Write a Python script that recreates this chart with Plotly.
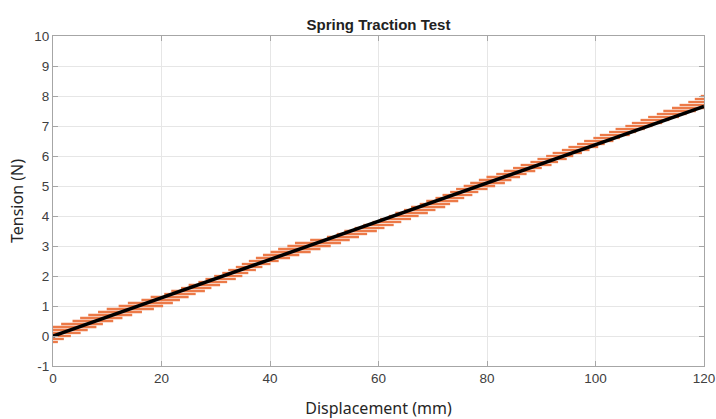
import plotly.graph_objects as go

# Quantised tension readings (N): each level is held over a displacement span (mm)
tension_levels = [-0.2, -0.1, 0.0, 0.1, 0.2, 0.3, 0.4, 0.5, 0.6, 0.7,
                  0.8, 0.9, 1.0, 1.1, 1.2, 1.3, 1.4, 1.5, 1.6, 1.7,
                  1.8, 1.9, 2.0, 2.1, 2.2, 2.3, 2.4, 2.5, 2.6, 2.7,
                  2.8, 2.9, 3.0, 3.1, 3.2, 3.3, 3.4, 3.5, 3.6, 3.7,
                  3.8, 3.9, 4.0, 4.1, 4.2, 4.3, 4.4, 4.5, 4.6, 4.7,
                  4.8, 4.9, 5.0, 5.1, 5.2, 5.3, 5.4, 5.5, 5.6, 5.7,
                  5.8, 5.9, 6.0, 6.1, 6.2, 6.3, 6.4, 6.5, 6.6, 6.7,
                  6.8, 6.9, 7.0, 7.1, 7.2, 7.3, 7.4, 7.5, 7.6, 7.7,
                  7.8, 7.9, 8.0]
span_start = [0, 0, 0, 0, 0, 0, 1.5, 3.6, 5.0, 6.5,
              8.3, 9.9, 12.1, 13.8, 16.3, 18.0, 20.5, 21.8, 23.6, 25.0,
              26.8, 28.1, 29.7, 31.2, 32.3, 33.7, 34.8, 36.1, 37.4, 38.7,
              40.1, 41.5, 43.2, 44.6, 47.4, 50.5, 52.3, 53.7, 55.6, 57.2,
              58.9, 60.3, 61.9, 63.1, 64.7, 66.0, 67.6, 68.8, 70.5, 71.8,
              73.2, 74.3, 75.7, 76.9, 78.5, 79.9, 81.7, 83.1, 84.8, 86.2,
              88.0, 89.3, 90.9, 92.1, 93.8, 95.0, 96.6, 97.9, 99.6, 100.8,
              102.5, 103.7, 105.5, 106.7, 108.3, 109.7, 111.3, 112.5, 114.1, 115.5,
              117.1, 118.3, 119.4]
span_end = [0.9, 2.0, 3.3, 5.1, 6.4, 8.0, 9.2, 11.1, 12.8, 14.6,
            16.4, 18.6, 20.3, 22.1, 23.4, 25.0, 26.3, 28.0, 29.2, 30.8,
            32.1, 33.7, 34.9, 36.0, 37.4, 38.6, 40.1, 41.6, 43.7, 45.4,
            47.5, 49.3, 51.2, 53.1, 54.7, 56.4, 57.9, 59.7, 61.1, 62.8,
            64.2, 66.0, 67.4, 69.1, 70.5, 72.3, 73.2, 74.7, 75.8, 77.3,
            78.4, 80.1, 81.5, 83.3, 84.5, 86.1, 87.3, 88.9, 90.1, 91.9,
            93.1, 94.7, 95.9, 97.5, 98.9, 100.5, 101.7, 103.3, 104.5, 106.3,
            107.5, 109.1, 110.5, 112.3, 113.6, 115.4, 116.8, 118.5, 120, 120,
            120, 120, 120]

# Linear fit of tension against displacement
fit_x = [0, 120]
fit_y = [0.0, 7.65]

x_ticks = [0, 20, 40, 60, 80, 100, 120]
y_ticks = [-1, 0, 1, 2, 3, 4, 5, 6, 7, 8, 9, 10]
y_tick_text = ["-1", "0", "1", "2", "3", "4", "5", "6", "7", "8", "9", "10"]

seg_x, seg_y = [], []
for lvl, x0, x1 in zip(tension_levels, span_start, span_end):
    seg_x += [x0, x1, None]
    seg_y += [lvl, lvl, None]

fig = go.Figure()
fig.add_trace(go.Scatter(x=seg_x, y=seg_y, mode="lines",
                         line=dict(color="#EC7A48", width=2.3),
                         showlegend=False, hoverinfo="skip"))
fig.add_trace(go.Scatter(x=fit_x, y=fit_y, mode="lines",
                         line=dict(color="#000000", width=3.5),
                         showlegend=False))

axis_common = dict(
    showgrid=True, gridcolor="#E6E6E6", gridwidth=1,
    zeroline=False, showline=True, linecolor="#A6A6A6", linewidth=1,
    mirror="ticks", ticks="inside", ticklen=5, tickcolor="#A6A6A6",
    ticklabeloverflow="allow", automargin=False,
    tickfont=dict(family="Liberation Sans, Arial", size=13.5, color="#404040"),
)

fig.update_layout(
    width=716, height=419,
    margin=dict(l=53, r=12, t=36, b=53),
    paper_bgcolor="white", plot_bgcolor="white",
    title=dict(text="<b>Spring Traction Test</b>", x=0.5286, xanchor="center",
               y=0.940, yanchor="middle",
               font=dict(family="Liberation Sans, Arial", size=15, color="#222222")),
    xaxis=dict(range=[0, 120], tickvals=x_ticks,
               title=dict(text="Displacement (mm)", standoff=17,
                          font=dict(family="Noto Sans", size=16, color="#262626")),
               **axis_common),
    yaxis=dict(range=[-1, 10], tickvals=y_ticks, ticktext=y_tick_text,
               title=dict(text="Tension (N)", standoff=6,
                          font=dict(family="Noto Sans", size=16, color="#262626")),
               **axis_common),
)

fig.write_html("out.html")
